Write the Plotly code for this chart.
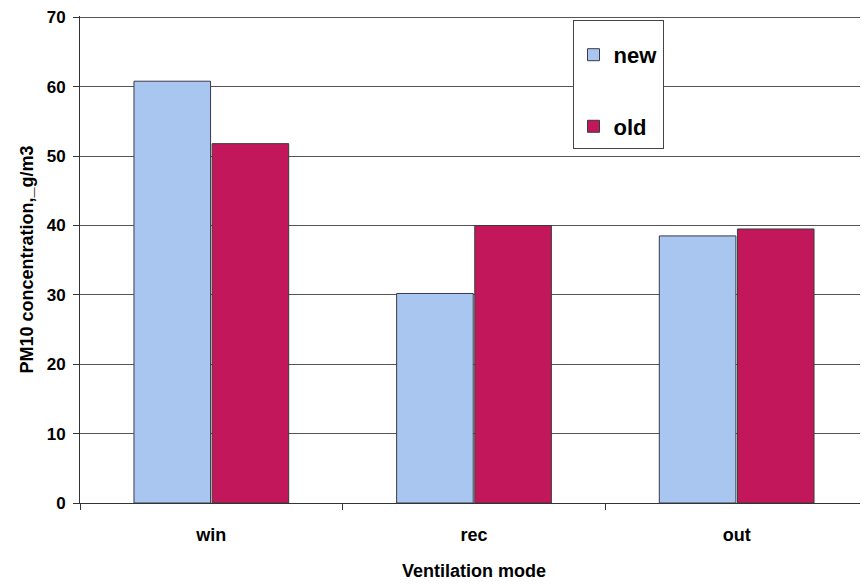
import plotly.graph_objects as go

# PM10 by ventilation mode
modes = ["win", "rec", "out"]
new_vals = [60.8, 30.2, 38.5]
old_vals = [51.8, 40.0, 39.5]

blue = "#A8C6F0"
crimson = "#C2185B"

fig = go.Figure()
fig.add_trace(go.Bar(
    x=modes, y=new_vals, name="new", legendgroup="a",
    marker=dict(color=blue, line=dict(color="#3a3a4a", width=1)),
))
fig.add_trace(go.Bar(
    x=modes, y=old_vals, name="old", legendgroup="b",
    marker=dict(color=crimson, line=dict(color="#3a3a3a", width=1)),
))

# page body has an 8px margin, so the figure is a bit smaller than the window
fig.update_layout(
    width=860, height=576,
    margin=dict(l=72, r=0, t=8, b=81),
    paper_bgcolor="white", plot_bgcolor="white",
    barmode="group", bargap=0.405, bargroupgap=0.02,
    font=dict(family="Liberation Sans, Arial, sans-serif", color="black"),
    legend=dict(
        x=0.625, y=0.992, xanchor="left", yanchor="top",
        bgcolor="white", bordercolor="#444", borderwidth=1,
        font=dict(size=22, family="Liberation Sans, Arial, sans-serif", weight="bold"),
        title=dict(text=" ", font=dict(size=10)),
        tracegroupgap=40, itemwidth=30,
    ),
)

fig.update_yaxes(
    range=[0, 70.2], dtick=10, automargin=False,
    showgrid=True, gridcolor="#555", gridwidth=1,
    showline=True, linecolor="#333", linewidth=1,
    ticks="outside", ticklen=6, tickcolor="#333", ticklabelstandoff=4,
    tickfont=dict(size=17, weight="bold"),
    title=dict(text="PM10 concentration,_g/m3", font=dict(size=18, weight="bold"), standoff=8),
    zeroline=False,
)
fig.update_xaxes(
    automargin=False,
    showline=True, linecolor="#333", linewidth=1,
    ticks="outside", ticklen=6, tickcolor="#333", tickson="boundaries",
    ticklabelstandoff=15,
    tickfont=dict(size=18, weight="bold"),
    title=dict(text="Ventilation mode", font=dict(size=18, weight="bold"), standoff=20),
)

fig.write_html("out.html")
